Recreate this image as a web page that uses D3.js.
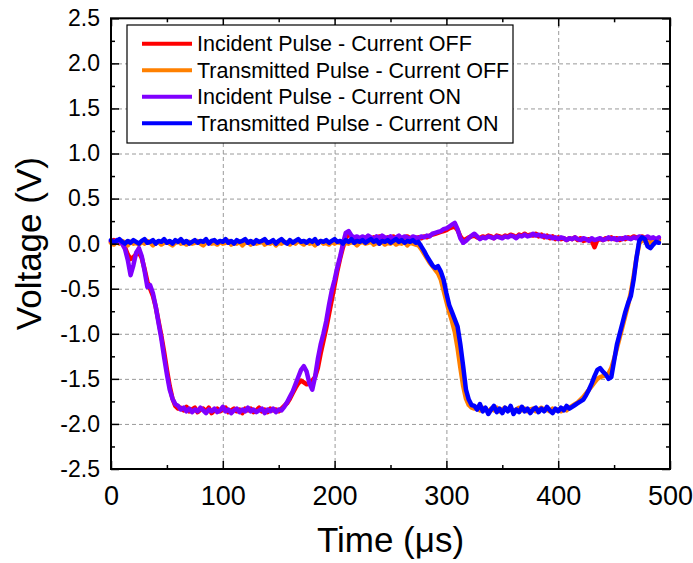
<!DOCTYPE html>
<html>
<head>
<meta charset="utf-8">
<script src="https://cdn.jsdelivr.net/npm/d3@7"></script>
<style>
  html, body { margin: 0; padding: 0; background: #fff; }
  svg { display: block; }
  text { font-family: "Liberation Sans", Arial, sans-serif; fill: #000; }
</style>
</head>
<body>
<svg id="chart" width="693" height="563"></svg>
<script>
// Oscilloscope records, sampled every 2.5 µs from t = 0 to 490 µs (V)
const sampleStepUs = 2.5;

const incidentOff = [
  0.02, 0.04, 0.01, 0.03, 0.01, -0.04, -0.12, -0.17, -0.15, -0.12,
  -0.10, -0.16, -0.28, -0.42, -0.50, -0.58, -0.70, -0.86, -1.02, -1.20,
  -1.40, -1.58, -1.72, -1.80, -1.83, -1.82, -1.85, -1.81, -1.86, -1.84,
  -1.82, -1.87, -1.84, -1.83, -1.86, -1.82, -1.88, -1.85, -1.83, -1.86,
  -1.84, -1.82, -1.87, -1.85, -1.83, -1.86, -1.84, -1.88, -1.83, -1.85,
  -1.83, -1.87, -1.85, -1.82, -1.86, -1.84, -1.87, -1.83, -1.85, -1.84,
  -1.86, -1.83, -1.80, -1.77, -1.72, -1.66, -1.60, -1.55, -1.52, -1.54,
  -1.56, -1.55, -1.52, -1.48, -1.38, -1.22, -1.08, -0.94, -0.78, -0.62,
  -0.46, -0.30, -0.16, -0.04, 0.06, 0.11, 0.08, 0.06, 0.07, 0.05,
  0.07, 0.06, 0.08, 0.05, 0.07, 0.06, 0.08, 0.07, 0.05, 0.07,
  0.06, 0.08, 0.06, 0.07, 0.05, 0.07, 0.08, 0.06, 0.07, 0.06,
  0.07, 0.06, 0.08, 0.07, 0.09, 0.10, 0.11, 0.12, 0.13, 0.14,
  0.15, 0.17, 0.18, 0.19, 0.15, 0.08, 0.04, 0.05, 0.07, 0.08,
  0.09, 0.07, 0.06, 0.08, 0.07, 0.09, 0.08, 0.06, 0.09, 0.08,
  0.07, 0.09, 0.08, 0.10, 0.09, 0.07, 0.10, 0.09, 0.11, 0.09,
  0.10, 0.09, 0.11, 0.08, 0.10, 0.07, 0.09, 0.06, 0.08, 0.05,
  0.07, 0.05, 0.06, 0.04, 0.06, 0.05, 0.07, 0.04, 0.06, 0.03,
  0.04, 0.05, 0.03, -0.04, 0.04, 0.05, 0.04, 0.06, 0.05, 0.07,
  0.05, 0.06, 0.04, 0.06, 0.05, 0.07, 0.06, 0.08, 0.07, 0.06,
  0.08, 0.06, 0.07, 0.05, 0.06, 0.04, 0.05
];

const transmittedOff = [
  0.01, -0.01, 0.02, 0.00, 0.03, 0.01, -0.02, 0.02, 0.00, 0.01,
  -0.01, 0.02, 0.00, 0.03, 0.01, -0.02, 0.01, 0.02, -0.01, 0.01,
  0.02, 0.00, -0.02, 0.01, 0.03, 0.00, 0.01, -0.01, 0.02, 0.00,
  0.01, 0.03, 0.00, -0.02, 0.01, 0.02, 0.00, 0.01, -0.01, 0.02,
  0.00, 0.01, 0.03, -0.01, 0.01, 0.00, 0.02, -0.02, 0.01, 0.02,
  -0.01, 0.02, 0.00, 0.01, 0.03, -0.01, 0.01, 0.00, 0.02, -0.02,
  0.01, 0.00, 0.02, 0.01, -0.01, 0.02, 0.00, 0.03, 0.01, -0.01,
  0.02, 0.00, 0.01, -0.02, 0.01, 0.03, 0.00, 0.01, -0.01, 0.02,
  0.00, 0.02, 0.01, -0.01, 0.01, 0.00, 0.02, 0.01, -0.02, 0.01,
  0.02, 0.00, 0.01, 0.03, -0.01, 0.01, 0.00, 0.02, -0.01, 0.01,
  0.00, 0.02, -0.01, 0.01, 0.00, 0.02, -0.02, 0.01, 0.00, -0.01,
  -0.02, -0.06, -0.11, -0.16, -0.21, -0.25, -0.29, -0.33, -0.40, -0.52,
  -0.64, -0.76, -0.86, -0.98, -1.16, -1.38, -1.58, -1.72, -1.79, -1.82,
  -1.83, -1.81, -1.85, -1.82, -1.84, -1.86, -1.83, -1.85, -1.82, -1.86,
  -1.84, -1.82, -1.85, -1.83, -1.86, -1.84, -1.82, -1.85, -1.83, -1.86,
  -1.84, -1.83, -1.86, -1.84, -1.82, -1.85, -1.84, -1.86, -1.83, -1.85,
  -1.84, -1.86, -1.83, -1.85, -1.82, -1.80, -1.78, -1.76, -1.73, -1.70,
  -1.66, -1.62, -1.58, -1.54, -1.50, -1.48, -1.47, -1.46, -1.44, -1.38,
  -1.28, -1.16, -1.04, -0.92, -0.80, -0.68, -0.54, -0.36, -0.16, 0.00,
  0.04, 0.03, 0.00, 0.02, 0.03, 0.02, 0.03
];

const incidentOn = [
  0.03, 0.01, 0.04, 0.02, 0.00, -0.06, -0.18, -0.35, -0.24, -0.10,
  -0.05, -0.14, -0.30, -0.48, -0.46, -0.55, -0.70, -0.88, -1.05, -1.26,
  -1.45, -1.62, -1.72, -1.78, -1.80, -1.84, -1.82, -1.86, -1.83, -1.87,
  -1.84, -1.86, -1.82, -1.85, -1.88, -1.84, -1.86, -1.83, -1.87, -1.85,
  -1.81, -1.86, -1.84, -1.88, -1.85, -1.83, -1.87, -1.84, -1.86, -1.82,
  -1.86, -1.84, -1.87, -1.85, -1.83, -1.88, -1.84, -1.86, -1.83, -1.87,
  -1.84, -1.85, -1.81, -1.76, -1.70, -1.64, -1.56, -1.48, -1.40, -1.36,
  -1.42, -1.55, -1.62, -1.48, -1.28, -1.12, -1.00, -0.86, -0.68, -0.52,
  -0.40, -0.26, -0.14, 0.00, 0.12, 0.14, 0.09, 0.07, 0.08, 0.06,
  0.08, 0.06, 0.09, 0.07, 0.05, 0.08, 0.06, 0.09, 0.07, 0.06,
  0.08, 0.05, 0.07, 0.09, 0.06, 0.08, 0.07, 0.05, 0.08, 0.07,
  0.06, 0.08, 0.07, 0.09, 0.08, 0.11, 0.12, 0.13, 0.14, 0.16,
  0.17, 0.19, 0.21, 0.23, 0.16, 0.06, 0.01, 0.03, 0.06, 0.09,
  0.11, 0.08, 0.05, 0.07, 0.06, 0.08, 0.07, 0.06, 0.08, 0.07,
  0.06, 0.08, 0.07, 0.09, 0.08, 0.06, 0.09, 0.08, 0.10, 0.08,
  0.09, 0.11, 0.09, 0.10, 0.08, 0.09, 0.07, 0.08, 0.06, 0.07,
  0.05, 0.07, 0.06, 0.04, 0.06, 0.05, 0.07, 0.05, 0.04, 0.06,
  0.05, 0.03, 0.06, 0.04, 0.05, 0.06, 0.04, 0.05, 0.07, 0.05,
  0.06, 0.04, 0.06, 0.05, 0.07, 0.06, 0.05, 0.07, 0.06, 0.08,
  0.07, 0.06, 0.08, 0.06, 0.07, 0.05, 0.07
];

const transmittedOn = [
  0.04, 0.01, 0.03, 0.05, 0.02, 0.00, 0.03, 0.01, 0.04, 0.02,
  0.00, 0.03, 0.05, 0.01, 0.02, 0.04, 0.00, 0.03, 0.02, 0.05,
  0.01, 0.03, 0.00, 0.04, 0.02, 0.05, 0.01, 0.03, 0.00, 0.02,
  0.04, 0.01, 0.03, 0.02, 0.05, 0.00, 0.03, 0.04, 0.01, 0.03,
  0.02, 0.05, 0.01, 0.03, 0.00, 0.04, 0.02, 0.03, 0.05, 0.01,
  0.03, 0.00, 0.04, 0.02, 0.03, 0.05, 0.01, 0.02, 0.04, 0.00,
  0.03, 0.05, 0.02, 0.00, 0.04, 0.01, 0.03, 0.05, 0.02, 0.03,
  0.01, 0.04, 0.02, 0.05, 0.00, 0.03, 0.02, 0.04, 0.01, 0.03,
  0.05, 0.02, 0.03, 0.00, 0.04, 0.02, 0.05, 0.01, 0.03, 0.02,
  0.04, 0.01, 0.03, 0.05, 0.02, 0.04, 0.00, 0.03, 0.02, 0.04,
  0.01, 0.03, 0.05, 0.02, 0.04, 0.01, 0.03, 0.02, 0.04, 0.01,
  0.02, -0.03, -0.08, -0.14, -0.19, -0.24, -0.27, -0.25, -0.31, -0.40,
  -0.55, -0.68, -0.76, -0.84, -0.92, -1.12, -1.36, -1.62, -1.73, -1.79,
  -1.80, -1.84, -1.78, -1.86, -1.82, -1.89, -1.84, -1.80, -1.87, -1.83,
  -1.88, -1.82, -1.86, -1.80, -1.89, -1.84, -1.87, -1.81, -1.86, -1.83,
  -1.88, -1.84, -1.82, -1.87, -1.83, -1.86, -1.81, -1.85, -1.88, -1.83,
  -1.86, -1.82, -1.85, -1.80, -1.83, -1.81, -1.79, -1.77, -1.75, -1.73,
  -1.68, -1.62, -1.55, -1.47, -1.40, -1.38, -1.42, -1.45, -1.50, -1.48,
  -1.30, -1.12, -1.00, -0.88, -0.76, -0.66, -0.58, -0.40, -0.16, 0.03,
  0.07, 0.05, -0.03, -0.05, -0.01, 0.02, 0.01
];

const seriesNames = [
  "Incident Pulse - Current OFF",
  "Transmitted Pulse - Current OFF",
  "Incident Pulse - Current ON",
  "Transmitted Pulse - Current ON"
];
const seriesColors = ["#ff0000", "#ff8000", "#8000ff", "#0000ff"];
const seriesValues = [incidentOff, transmittedOff, incidentOn, transmittedOn];

const xMajorTicks = [0, 100, 200, 300, 400, 500];
const xMinorTicks = [50, 150, 250, 350, 450];
const yMajorTicks = [-2.5, -2.0, -1.5, -1.0, -0.5, 0.0, 0.5, 1.0, 1.5, 2.0, 2.5];
const yMinorTicks = [-2.25, -1.75, -1.25, -0.75, -0.25, 0.25, 0.75, 1.25, 1.75, 2.25];

const xTitle = "Time (\u03bcs)";
const yTitle = "Voltage (V)";

// Layout
const plot = { left: 111, right: 670, top: 18.3, bottom: 469 };
const W = plot.right - plot.left, H = plot.bottom - plot.top;

const svg = d3.select("#chart");
const x = d3.scaleLinear().domain([0, 500]).range([plot.left, plot.right]);
const y = d3.scaleLinear().domain([-2.5, 2.5]).range([plot.bottom, plot.top]);

// Dashed grid at interior major ticks
const gridG = svg.append("g").attr("class", "grid");
gridG.append("g")
  .attr("transform", `translate(0,${plot.bottom})`)
  .call(d3.axisBottom(x).tickValues(xMajorTicks.slice(1, -1)).tickSize(-H).tickFormat(""))
  .call(g => g.select(".domain").remove());
gridG.append("g")
  .attr("transform", `translate(${plot.left},0)`)
  .call(d3.axisLeft(y).tickValues(yMajorTicks.slice(1, -1)).tickSize(-W).tickFormat(""))
  .call(g => g.select(".domain").remove());
gridG.selectAll("line")
  .attr("stroke", "#9a9a9a")
  .attr("stroke-width", 1)
  .attr("stroke-dasharray", "4,3");

// Traces
const line = d3.line()
  .x((d, i) => x(i * sampleStepUs))
  .y(d => y(d));

svg.append("g").attr("class", "traces")
  .selectAll("path")
  .data(seriesValues)
  .join("path")
  .attr("d", d => line(d))
  .attr("fill", "none")
  .attr("stroke", (d, i) => seriesColors[i])
  .attr("stroke-width", 4.5)
  .attr("stroke-linejoin", "round")
  .attr("stroke-linecap", "round");

// Axes with inward ticks on all four sides
function styleAxis(g) {
  g.select(".domain").remove();
  g.selectAll(".tick line").attr("stroke", "#000").attr("stroke-width", 1.5);
}
const majorLen = 8, minorLen = 4;

const xAxisBottom = svg.append("g")
  .attr("transform", `translate(0,${plot.bottom})`)
  .call(d3.axisBottom(x).tickValues(xMajorTicks).tickSizeInner(-majorLen).tickSizeOuter(0)
    .tickPadding(10).tickFormat(d => String(d)))
  .call(styleAxis);
xAxisBottom.selectAll("text")
  .attr("font-size", 27)
  .attr("dy", "0.95em");
svg.append("g")
  .attr("transform", `translate(0,${plot.bottom})`)
  .call(d3.axisBottom(x).tickValues(xMinorTicks).tickSizeInner(-minorLen).tickSizeOuter(0).tickFormat(""))
  .call(styleAxis);
svg.append("g")
  .attr("transform", `translate(0,${plot.top})`)
  .call(d3.axisTop(x).tickValues(xMajorTicks).tickSizeInner(-majorLen).tickSizeOuter(0).tickFormat(""))
  .call(styleAxis);
svg.append("g")
  .attr("transform", `translate(0,${plot.top})`)
  .call(d3.axisTop(x).tickValues(xMinorTicks).tickSizeInner(-minorLen).tickSizeOuter(0).tickFormat(""))
  .call(styleAxis);

const yAxisLeft = svg.append("g")
  .attr("transform", `translate(${plot.left},0)`)
  .call(d3.axisLeft(y).tickValues(yMajorTicks).tickSizeInner(-majorLen).tickSizeOuter(0)
    .tickPadding(11).tickFormat(d => d.toFixed(1)))
  .call(styleAxis);
yAxisLeft.selectAll("text").attr("font-size", 23);
svg.append("g")
  .attr("transform", `translate(${plot.left},0)`)
  .call(d3.axisLeft(y).tickValues(yMinorTicks).tickSizeInner(-minorLen).tickSizeOuter(0).tickFormat(""))
  .call(styleAxis);
svg.append("g")
  .attr("transform", `translate(${plot.right},0)`)
  .call(d3.axisRight(y).tickValues(yMajorTicks).tickSizeInner(-majorLen).tickSizeOuter(0).tickFormat(""))
  .call(styleAxis);
svg.append("g")
  .attr("transform", `translate(${plot.right},0)`)
  .call(d3.axisRight(y).tickValues(yMinorTicks).tickSizeInner(-minorLen).tickSizeOuter(0).tickFormat(""))
  .call(styleAxis);

// Frame
svg.append("rect")
  .attr("x", plot.left).attr("y", plot.top)
  .attr("width", W).attr("height", H)
  .attr("fill", "none").attr("stroke", "#000").attr("stroke-width", 2);

// Axis titles
svg.append("text")
  .attr("x", (plot.left + plot.right) / 2)
  .attr("y", 552)
  .attr("text-anchor", "middle")
  .attr("font-size", 35)
  .text(xTitle);
svg.append("text")
  .attr("transform", `translate(41,${(plot.top + plot.bottom) / 2}) rotate(-90)`)
  .attr("text-anchor", "middle")
  .attr("font-size", 35)
  .text(yTitle);

// Legend
const legend = { x: 127, y: 25, w: 386, h: 118, rowY: [43.7, 70.3, 96.7, 123.3] };
const lg = svg.append("g").attr("class", "legend");
lg.append("rect")
  .attr("x", legend.x).attr("y", legend.y)
  .attr("width", legend.w).attr("height", legend.h)
  .attr("fill", "#fff").attr("stroke", "#000").attr("stroke-width", 1.2);
const items = lg.selectAll("g.item")
  .data(seriesNames)
  .join("g").attr("class", "item")
  .attr("transform", (d, i) => `translate(0,${legend.rowY[i]})`);
items.append("line")
  .attr("x1", 142).attr("x2", 192)
  .attr("stroke", (d, i) => seriesColors[i])
  .attr("stroke-width", 4);
items.append("text")
  .attr("x", 197)
  .attr("dy", "0.36em")
  .attr("font-size", 21.5)
  .text(d => d);
</script>
</body>
</html>
